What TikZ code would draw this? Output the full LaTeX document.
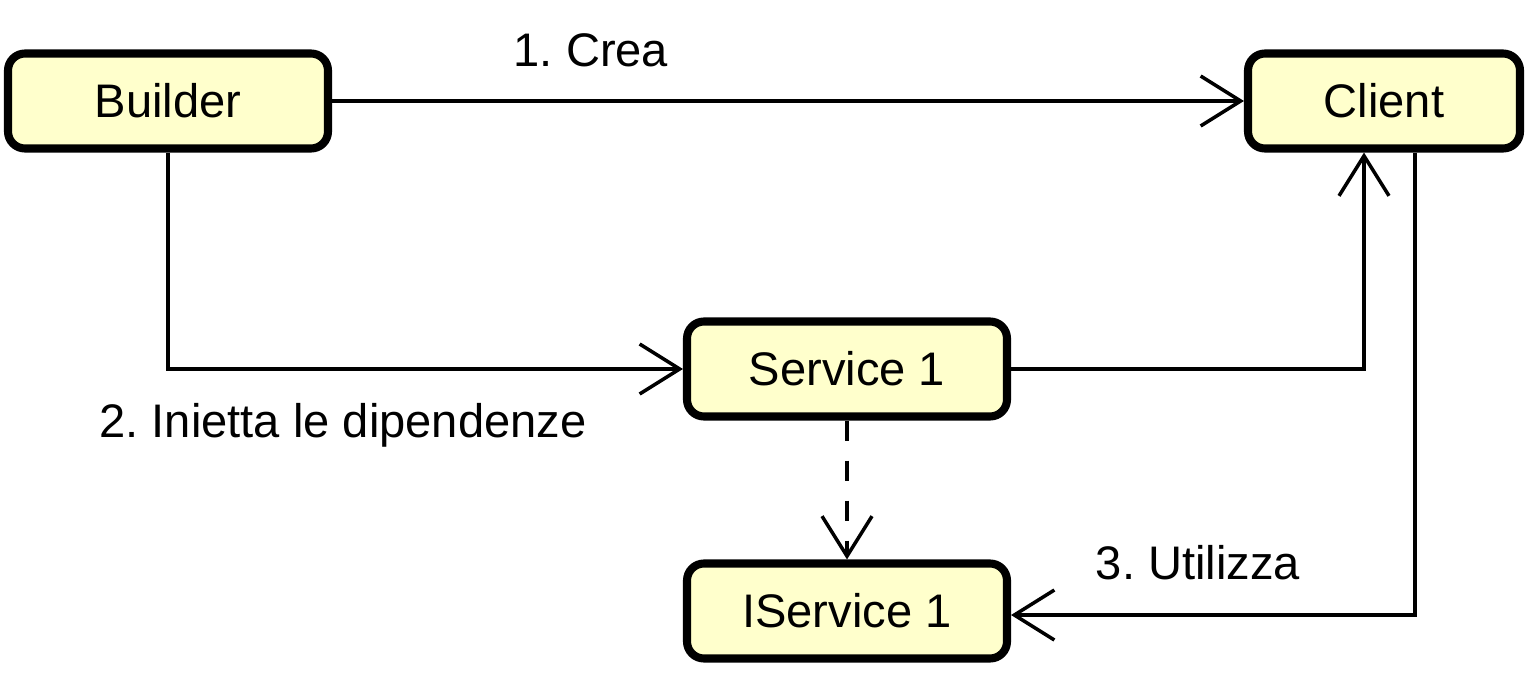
\documentclass[tikz,border=0pt]{standalone}
\usepackage{fontspec}
\setmainfont{Liberation Sans}
\usetikzlibrary{arrows.meta}

\definecolor{boxfill}{RGB}{255,255,204}

\tikzset{
    comp/.style={draw, fill=boxfill, line width=2.3pt, rounded corners=0.17cm,
        minimum width=3.2cm, minimum height=0.95cm, font=\fontsize{13.4}{16}\selectfont},
    conn/.style={line width=1pt, -{Straight Barb[length=0.4cm, width=0.5cm, line width=1pt]}},
    lbl/.style={font=\fontsize{13.4}{16}\selectfont}
}

\begin{document}
\frenchspacing
\begin{tikzpicture}
    \useasboundingbox (0,0) rectangle (15.3,-6.84);

    % Components
    \node[comp] (builder) at (1.68,-1.01) {Builder};
    \node[comp, minimum width=2.72cm] (client) at (13.84,-1.01) {Client};
    \node[comp] (service) at (8.47,-3.69) {Service 1};
    \node[comp] (iservice) at (8.47,-6.11) {IService 1};

    % Connectors
    \draw[conn] (builder) -- (client);
    \draw[conn] (builder.south) |- (service.west);
    \draw[conn] (service.east) -| (client.south -| 13.64,0);
    \draw[conn, dash pattern=on 0.2cm off 0.2cm] (service) -- (iservice);
    \draw[conn] (client.south -| 14.15,0) |- (iservice.east |- 0,-6.15);

    % Labels
    \node[lbl] (crea) at (5.91,-0.50) {1. Crea};
    \node[lbl] (inietta) at (3.43,-4.25) {2. Inietta le dipendenze};
    \node[lbl] (utilizza) at (11.98,-5.63) {3. Utilizza};

\end{tikzpicture}
\end{document}
